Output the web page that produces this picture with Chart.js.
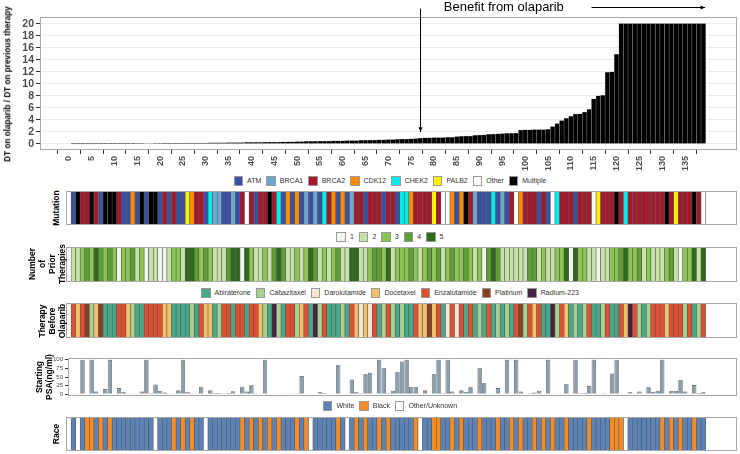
<!DOCTYPE html>
<html>
<head>
<meta charset="utf-8">
<script src="https://cdn.jsdelivr.net/npm/chart.js@4.4.0/dist/chart.umd.min.js"></script>
<style>
body { margin: 0; background: #fff; font-family: "Liberation Sans", Arial, sans-serif; }
#wrap { position: relative; width: 740px; height: 454px; overflow: hidden; }
canvas { position: absolute; }
.legend { position: absolute; left: 0; width: 780px; display: flex; justify-content: center; align-items: center; font-size: 7px; color: #333; }
.legend .item { display: flex; align-items: center; margin: 0 2.5px; }
.legend .box { width: 9.5px; height: 9.5px; border: 1px solid #999; box-sizing: border-box; margin-right: 4px; }
.rowlab { position: absolute; font-weight: bold; font-size: 8.5px; line-height: 9.5px; text-align: center; transform: translate(-50%, -50%) rotate(-90deg); white-space: nowrap; }
</style>
</head>
<body>
<div id="wrap">
  <canvas id="top" width="740" height="175" style="left:0;top:0"></canvas>
  <div class="legend" id="legMut" style="top:176px"></div>
  <canvas id="mut" style="top:191px"></canvas>
  <div class="legend" id="legPrior" style="top:232px"></div>
  <canvas id="prior" style="top:247px"></canvas>
  <div class="legend" id="legTher" style="top:288px"></div>
  <canvas id="ther" style="top:303px"></canvas>
  <canvas id="psa" width="740" height="50" style="left:0;top:352px"></canvas>
  <div class="legend" id="legRace" style="top:401px"></div>
  <canvas id="race" style="top:417px"></canvas>
  <div class="rowlab" style="left:8px;top:84px;font-size:8.2px">DT on olaparib / DT on previous therapy</div>
  <div class="rowlab" style="left:57px;top:208px">Mutation</div>
  <div class="rowlab" style="left:47px;top:264px;line-height:10px">Number<br>of<br>Prior<br>Therapies</div>
  <div class="rowlab" style="left:52px;top:321px;line-height:10px">Therapy<br>Before<br>Olaparib</div>
  <div class="rowlab" style="left:44px;top:377px;line-height:10px">Starting<br>PSA(ng/ml)</div>
  <div class="rowlab" style="left:57px;top:434px">Race</div>
</div>
<script>
// DT ratio per patient (sorted), patients 1..139
const dtRatio = [
  0.01, 0.01, 0.02, 0.02, 0.02, 0.03, 0.03, 0.03, 0.04, 0.04,
  0.05, 0.05, 0.06, 0.06, 0.07, 0.07, 0.08, 0.08, 0.09, 0.09,
  0.10, 0.10, 0.11, 0.12, 0.12, 0.13, 0.14, 0.15, 0.16, 0.17,
  0.18, 0.19, 0.20, 0.21, 0.22, 0.23, 0.24, 0.25, 0.26, 0.27,
  0.28, 0.29, 0.30, 0.31, 0.32, 0.33, 0.34, 0.35, 0.36, 0.38,
  0.40, 0.42, 0.44, 0.45, 0.47, 0.48, 0.50, 0.51, 0.52, 0.53,
  0.55, 0.56, 0.58, 0.60, 0.62, 0.64, 0.66, 0.68, 0.70, 0.72,
  0.75, 0.78, 0.80, 0.83, 0.85, 0.90, 1.00, 1.02, 1.03, 1.05,
  1.06, 1.08, 1.10, 1.12, 1.25, 1.28, 1.30, 1.32, 1.45, 1.48,
  1.50, 1.60, 1.65, 1.70, 1.72, 1.75, 1.78, 1.80, 2.30, 2.35,
  2.35, 2.40, 2.40, 2.40, 2.45, 2.90, 3.40, 3.90, 4.25, 4.60,
  4.95, 5.00, 5.30, 5.75, 7.50, 8.00, 8.10, 11.9, 12.0, 14.9,
  20, 20, 20, 20, 20, 20, 20, 20, 20, 20,
  20, 20, 20, 20, 20, 20, 20, 20, 20
];
const xTicks = [0, 5, 10, 15, 20, 25, 30, 35, 40, 45, 50, 55, 60, 65, 70, 75, 80, 85, 90, 95, 100, 105, 110, 115, 120, 125, 130, 135];
const yTicks = [0, 2, 4, 6, 8, 10, 12, 14, 16, 18, 20];
const psaTicks = [0, 25, 50, 75, 100];

// A=ATM 1=BRCA1 2=BRCA2 C=CDK12 K=CHEK2 P=PALB2 O=Other M=Multiple
const mutation = [
  'A','M','2','2','M','2','A','M','M','M',
  '2','A','A','C','A','M','A','M','M','A',
  '2','A','2','A','A','P','C','2','2','A',
  'K','1','1','A','A','1','A','2','O','2',
  'A','2','2','M','2','K','A','C','A','C',
  'A','1','A','1','A','K','2','C','A','C',
  'A','1','2','2','A','2','2','2','A','2',
  '2','A','K','K','C','2','2','2','2','P',
  '2','O','O','C','A','C','M','2','1','A',
  'A','A','K','A','1','A','2','O','C','2',
  '2','2','A','2','A','O','K','2','2','2',
  'A','2','2','2','O','P','2','2','2','M',
  '2','K','2','2','2','2','2','2','2','2',
  'M','2','P','2','2','2','M','2','O'
];
const priorLines = [
  2,2,3,4,3,5,4,3,4,3,
  1,3,3,4,2,3,1,2,2,1,
  1,2,3,3,2,5,5,4,3,4,
  3,2,2,2,4,5,5,1,5,3,
  2,2,3,2,4,5,4,2,2,3,
  2,3,5,4,2,3,2,3,4,2,
  2,5,5,2,2,3,4,4,3,5,
  2,3,3,3,4,3,2,3,4,3,
  4,2,3,4,3,3,4,3,2,3,
  1,4,5,4,2,2,2,2,2,2,
  4,4,2,3,2,2,3,3,5,1,
  5,3,3,2,2,1,2,2,3,3,
  4,5,3,3,4,2,3,2,2,2,
  3,4,2,1,3,3,5,2,5
];
// Ab Abiraterone, Ca Cabazitaxel, Da Darolutamide, Do Docetaxel, En Enzalutamide, Pl Platinum, Ra Radium-223
const therapy = [
  'En','Do','En','Pl','Ca','Do','Pl','Ab','Ab','Ab',
  'En','En','Do','Ca','Ab','Ab','En','En','En','En',
  'Do','Do','Ab','Ab','Ab','Ab','Ca','Ab','En','Do',
  'Do','Ab','Ca','En','En','Ab','En','En','Ab','En',
  'En','Do','Ca','Ab','Ra','Ca','Ab','En','En','Ca',
  'Do','En','Ab','Ra','Ca','En','Ab','Ab','Ab','Ca',
  'Ab','En','Do','Da','Do','Da','En','Ab','Ca','En',
  'Ca','Ab','Ca','Ab','Ab','En','Do','Do','Pl','Do',
  'En','Ab','Da','En','Da','En','Ab','En','Ab','Ca',
  'Ab','En','Ab','Ca','Ab','Ca','Ab','En','Pl','Ca',
  'En','Do','En','Ab','Ab','Ra','Ca','En','Do','Ab',
  'Ca','Ab','Ca','En','Ab','Ab','Ca','En','Ab','Ab',
  'En','Do','Ra','En','Ca','Ab','Ca','En','En','En',
  'Do','En','En','En','Ca','En','Ab','Ca','En'
];
const psa = [
  1, 1, 100, 1, 100, 8, 1, 15, 100, 1,
  18, 6, 1, 2, 1, 8, 100, 3, 28, 10,
  5, 1, 1, 12, 100, 7, 3, 0.5, 22, 0.5,
  12, 4, 4, 0.5, 4, 9, 0.5, 22, 8, 26,
  3, 0.5, 100, 0.5, 0.5, 0.5, 0.5, 1, 0.5, 3,
  53, 0.5, 0.5, 0.5, 6, 4, 0.5, 0.5, 84, 0.5,
  0.5, 43, 6, 3, 58, 62, 0.5, 100, 75, 3,
  10, 65, 95, 100, 22, 22, 0.5, 12, 0.5, 58,
  100, 3, 100, 8, 1, 12, 6, 20, 0.5, 77,
  32, 0.5, 0.5, 18, 1, 100, 0.5, 100, 8, 0.5,
  3, 5, 10, 0.5, 100, 1, 0.5, 0.5, 30, 0.5,
  100, 3, 4, 24, 100, 0.5, 3, 1, 60, 100,
  1, 0.5, 6, 2, 8, 0.5, 20, 6, 10, 100,
  0.5, 10, 10, 42, 8, 0.5, 27, 4, 6
];
// W White, B Black, O Other/Unknown
const race = [
  'W','O','W','B','B','W','B','W','B','W',
  'W','W','W','W','W','W','W','W','O','W',
  'W','W','B','W','B','W','B','W','W','O',
  'W','W','W','W','W','W','W','B','W','B',
  'W','B','W','B','W','B','W','W','W','B',
  'W','B','O','W','W','W','W','W','B','W',
  'O','W','B','W','B','W','W','B','W','B',
  'W','W','W','W','W','B','O','W','W','B',
  'B','W','W','B','W','B','W','W','W','B',
  'W','W','W','B','W','W','B','W','B','W',
  'W','B','W','B','W','B','W','W','B','W',
  'W','W','W','B','W','W','W','W','B','B',
  'B','O','W','W','W','W','W','W','W','B',
  'W','B','W','B','W','W','B','W','W'
];

const mutColors = { A: '#3a50a0', '1': '#6ea6d2', '2': '#a3182b', C: '#ff8c00', K: '#00eded', P: '#fff000', O: '#ffffff', M: '#000000' };
const mutNames = { A: 'ATM', '1': 'BRCA1', '2': 'BRCA2', C: 'CDK12', K: 'CHEK2', P: 'PALB2', O: 'Other', M: 'Multiple' };
const priorColors = { 1: '#f1f8ea', 2: '#c6e2a8', 3: '#8cc551', 4: '#5e9f35', 5: '#2e6a1c' };
const therColors = { Ab: '#48a88a', Ca: '#a9d08f', Da: '#f4e7d4', Do: '#f2c16a', En: '#e14f31', Pl: '#854221', Ra: '#43233f' };
const therNames = { Ab: 'Abiraterone', Ca: 'Cabazitaxel', Da: 'Darolutamide', Do: 'Docetaxel', En: 'Enzalutamide', Pl: 'Platinum', Ra: 'Radium-223' };
const raceColors = { W: '#5b83b7', B: '#f58c25', O: '#ffffff' };
const raceNames = { W: 'White', B: 'Black', O: 'Other/Unknown' };

// pixel layout: patient index -> px is 68.8 + 4.565 * i
const X0 = 68.8, PX = 4.565;
const FRAME_R = 737;
function xRange(left) { return { min: (left - X0) / PX, max: (FRAME_R - X0) / PX }; }

const framePlugin = {
  id: 'frame',
  afterDraw(chart) {
    const { ctx, chartArea: a } = chart;
    ctx.save();
    ctx.strokeStyle = '#a8a8a8';
    ctx.lineWidth = 1;
    ctx.strokeRect(a.left + 0.5, a.top + 0.5, a.right - a.left - 1, a.bottom - a.top - 1);
    ctx.restore();
  }
};

// annotation arrows, in data units
const arrowX = 77, arrowTop = 22.5, arrowBottom = 2.0;
const benefitFrom = 114.5, benefitTo = 139.4, benefitY = 22.75, benefitTextX = 95.3;

function arrow(ctx, x1, y1, x2, y2) {
  const ang = Math.atan2(y2 - y1, x2 - x1), h = 5;
  ctx.beginPath(); ctx.moveTo(x1, y1); ctx.lineTo(x2, y2); ctx.stroke();
  ctx.beginPath();
  ctx.moveTo(x2, y2);
  ctx.lineTo(x2 - h * Math.cos(ang - 0.4), y2 - h * Math.sin(ang - 0.4));
  ctx.lineTo(x2 - h * Math.cos(ang + 0.4), y2 - h * Math.sin(ang + 0.4));
  ctx.closePath(); ctx.fill();
}

const annotPlugin = {
  id: 'annot',
  afterDraw(chart) {
    const { ctx, scales: { x, y } } = chart;
    ctx.save();
    ctx.strokeStyle = '#000'; ctx.fillStyle = '#000'; ctx.lineWidth = 1;
    const ax = Math.round(x.getPixelForValue(arrowX)) + 0.5;
    arrow(ctx, ax, y.getPixelForValue(arrowTop), ax, y.getPixelForValue(arrowBottom));
    const by = Math.round(y.getPixelForValue(benefitY)) + 0.5;
    arrow(ctx, x.getPixelForValue(benefitFrom), by, x.getPixelForValue(benefitTo), by);
    ctx.font = '13px "Liberation Sans", Arial, sans-serif';
    ctx.textAlign = 'center'; ctx.textBaseline = 'alphabetic';
    ctx.fillText('Benefit from olaparib', x.getPixelForValue(benefitTextX), 11);
    ctx.restore();
  }
};

const topRange = xRange(40);
new Chart(document.getElementById('top'), {
  type: 'bar',
  data: {
    datasets: [{
      data: dtRatio.map((v, i) => ({ x: i + 1, y: v })),
      backgroundColor: '#000',
      borderColor: '#8c8c8c',
      borderWidth: 0.5,
      barPercentage: 1,
      categoryPercentage: 1
    }]
  },
  options: {
    responsive: false,
    animation: false,
    devicePixelRatio: 1,
    layout: { padding: { top: 17, right: 740 - FRAME_R, left: 0, bottom: 0 } },
    plugins: { legend: { display: false }, tooltip: { enabled: false } },
    scales: {
      x: {
        type: 'linear', min: topRange.min, max: topRange.max, offset: false,
        afterBuildTicks: s => { s.ticks = xTicks.map(v => ({ value: v })); },
        afterFit: s => { s.height = 25; },
        ticks: { autoSkip: false, minRotation: 90, maxRotation: 90, padding: 2, color: '#4d4d4d', font: { size: 9, weight: 'bold', family: '"Liberation Sans", Arial' } },
        grid: { drawOnChartArea: false, tickLength: 4, tickColor: '#333' },
        border: { display: false }
      },
      y: {
        min: -1, max: 21.1,
        afterBuildTicks: s => { s.ticks = yTicks.map(v => ({ value: v })); },
        afterFit: s => { s.width = 40; },
        ticks: { autoSkip: false, padding: 2, color: '#4d4d4d', font: { size: 10.5, weight: 'bold', family: '"Liberation Sans", Arial' } },
        grid: { color: '#ececec', tickLength: 4, tickColor: '#333' },
        border: { display: false }
      }
    }
  },
  plugins: [framePlugin, annotPlugin]
});

// heatmap strips
const HEAT_L = 66;
function strip(id, codes, colors, top, bottom) {
  const cv = document.getElementById(id);
  cv.width = FRAME_R - HEAT_L; cv.height = bottom - top;
  cv.style.left = HEAT_L + 'px';
  const r = xRange(HEAT_L);
  new Chart(cv, {
    type: 'bar',
    data: {
      datasets: [{
        data: codes.map((c, i) => ({ x: i + 1, y: 1 })),
        backgroundColor: codes.map(c => colors[c]),
        borderColor: '#555',
        borderWidth: 0.6,
        barPercentage: 1,
        categoryPercentage: 1
      }]
    },
    options: {
      responsive: false, animation: false, devicePixelRatio: 1,
      layout: { padding: 0 },
      plugins: { legend: { display: false }, tooltip: { enabled: false } },
      scales: {
        x: { type: 'linear', min: r.min, max: r.max, offset: false, display: false },
        y: { min: 0, max: 1, display: false }
      }
    },
    plugins: [framePlugin]
  });
}
strip('mut', mutation, mutColors, 191, 225);
strip('prior', priorLines, priorColors, 247, 282);
strip('ther', therapy, therColors, 303, 338);
strip('race', race, raceColors, 417, 451);

// PSA bars
const PSA_L = 68;
const psaRange = xRange(PSA_L);
new Chart(document.getElementById('psa'), {
  type: 'bar',
  data: {
    datasets: [{
      data: psa.map((v, i) => ({ x: i + 1, y: v })),
      backgroundColor: '#8d9eab',
      borderColor: '#3f4b55',
      borderWidth: 0.7,
      barPercentage: 0.95,
      categoryPercentage: 1
    }]
  },
  options: {
    responsive: false, animation: false, devicePixelRatio: 1,
    layout: { padding: { top: 6, right: 740 - FRAME_R, left: 0, bottom: 0 } },
    plugins: { legend: { display: false }, tooltip: { enabled: false } },
    scales: {
      x: { type: 'linear', min: psaRange.min, max: psaRange.max, offset: false, display: true,
        afterFit: s => { s.height = 6; },
        ticks: { display: false }, grid: { display: false }, border: { display: false } },
      y: {
        min: -5, max: 105,
        afterBuildTicks: s => { s.ticks = psaTicks.map(v => ({ value: v })); },
        afterFit: s => { s.width = PSA_L; },
        ticks: { autoSkip: false, padding: 2, color: '#4d4d4d', font: { size: 6, family: '"Liberation Sans", Arial' } },
        grid: { drawOnChartArea: false, tickLength: 3, tickColor: '#333' },
        border: { display: false }
      }
    }
  },
  plugins: [framePlugin]
});

// legends
function legend(id, keys, colors, names) {
  const el = document.getElementById(id);
  keys.forEach(k => {
    const it = document.createElement('div'); it.className = 'item';
    const b = document.createElement('div'); b.className = 'box'; b.style.background = colors[k];
    const t = document.createElement('span'); t.textContent = names ? names[k] : k;
    it.appendChild(b); it.appendChild(t); el.appendChild(it);
  });
}
legend('legMut', ['A', '1', '2', 'C', 'K', 'P', 'O', 'M'], mutColors, mutNames);
legend('legPrior', [1, 2, 3, 4, 5], priorColors, null);
legend('legTher', ['Ab', 'Ca', 'Da', 'Do', 'En', 'Pl', 'Ra'], therColors, therNames);
legend('legRace', ['W', 'B', 'O'], raceColors, raceNames);
</script>
</body>
</html>
